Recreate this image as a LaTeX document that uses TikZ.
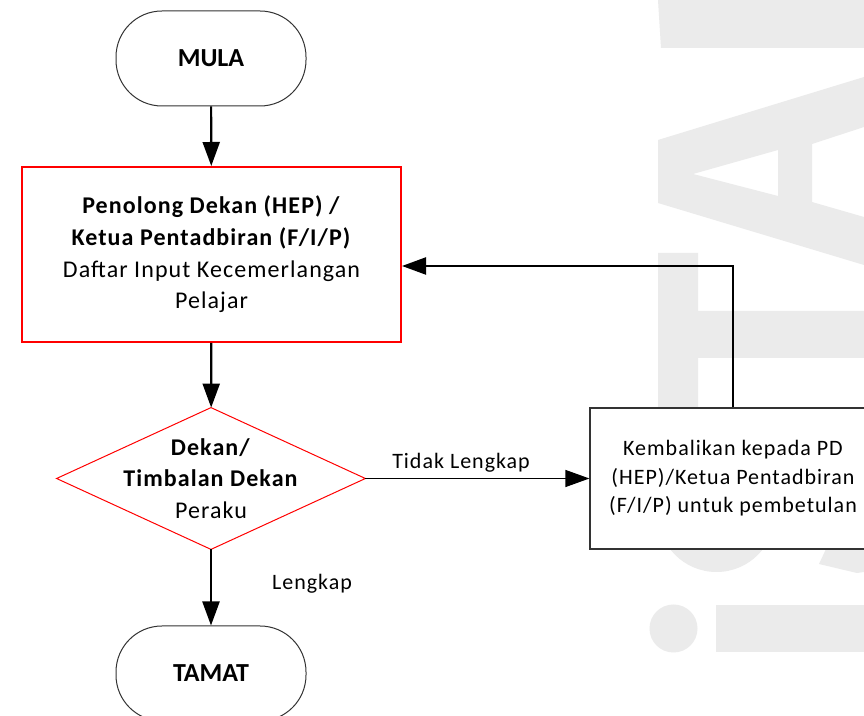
\documentclass[tikz,border=0pt]{standalone}
\usepackage{fontspec}
\setmainfont{Carlito}
\newfontfamily\lebar{Carlito}[LetterSpace=4.5]
\usetikzlibrary{arrows.meta}
\definecolor{tanda}{RGB}{235,235,235}
\definecolor{merah}{RGB}{255,0,0}

\begin{document}
\begin{tikzpicture}[x=0.5pt,y=0.5pt,
    terminal/.style={draw=black!80,line width=0.5pt,rounded corners=23pt,minimum width=95pt,minimum height=47.5pt,font=\fontsize{13}{16}\selectfont\bfseries},
    proses/.style={draw=merah,line width=1pt,minimum width=189.5pt,minimum height=87.5pt,align=center,font=\lebar\fontsize{12}{15.85}\selectfont},
    putusan/.style={minimum width=154pt,minimum height=70.5pt,align=center,font=\lebar\fontsize{12}{15.85}\selectfont},
    kotak/.style={draw=black!80,fill=white,line width=0.6pt,minimum width=143pt,minimum height=70.5pt,align=center,font=\lebar\fontsize{11}{14.2}\selectfont},
    teks/.style={font=\lebar\fontsize{11}{14}\selectfont},
    anakpanah/.style={-{Triangle[length=12pt,width=8.5pt]},line width=1.1pt}]
    \tikzstyle{every node}+=[inner sep=0pt]
    \clip (0,0) rectangle (864,-716);
    \fill[white] (0,0) rectangle (864,-716);
    % tera air
    \fill[tanda] (658,0) -- (864,0) -- (864,-48) -- (661,-48) -- cycle;
    \fill[tanda,even odd rule] (658,-140) -- (864,-77) -- (864,-127) -- (812,-144) -- (812,-202) -- (864,-217) -- (864,-265) -- (658,-203) -- cycle
        (693,-174) -- (778,-150) -- (778,-196) -- cycle;
    \fill[tanda] (658,-253) -- (698,-253) -- (698,-311) -- (864,-311) -- (864,-358) -- (698,-358) -- (698,-420) -- (658,-420) -- cycle;
    \fill[tanda] (716.5,-513.5) circle (58.5);
    \fill[tanda] (826,-549) -- (864,-549) -- (864,-572) -- (857,-573) -- (819,-564) -- cycle;
    \fill[tanda] (673.5,-628.5) circle (24);
    \fill[tanda] (716,-605) rectangle (864,-652);
    % nod
    \node[terminal] (mula) at (211,-58.5) {MULA};
    \node[proses] (pd) at (211.5,-254.5) {\textbf{Penolong Dekan (HEP) /}\\\textbf{Ketua Pentadbiran (F/I/P)}\\Daftar Input Kecemerlangan\\Pelajar};
    \node[putusan] (dekan) at (211,-478.5) {\textbf{Dekan/}\\\textbf{Timbalan Dekan}\\Peraku};
    \draw[merah,line width=0.5pt] (dekan.north) -- (dekan.east) -- (dekan.south) -- (dekan.west) -- cycle;
    \node[kotak] (kembali) at (733,-478.5) {Kembalikan kepada PD\\(HEP)/Ketua Pentadbiran\\(F/I/P) untuk pembetulan};
    \node[terminal] (tamat) at (211,-673.5) {TAMAT};
    \node[teks] (lengkap) at (312,-584) {Lengkap};
    \coordinate (balik) at (733,-266);
    % anak panah
    \draw[anakpanah] (mula) -- (pd);
    \draw[anakpanah] (pd) -- (dekan);
    \draw[anakpanah] (dekan) -- (tamat);
    \draw[anakpanah,line width=0.6pt] (dekan.east) -- (kembali.west) node[teks,pos=0.427,above=3pt] {Tidak Lengkap};
    \draw[anakpanah] (kembali.north) -- (balik) -- (balik -| pd.east);
\end{tikzpicture}
\end{document}
